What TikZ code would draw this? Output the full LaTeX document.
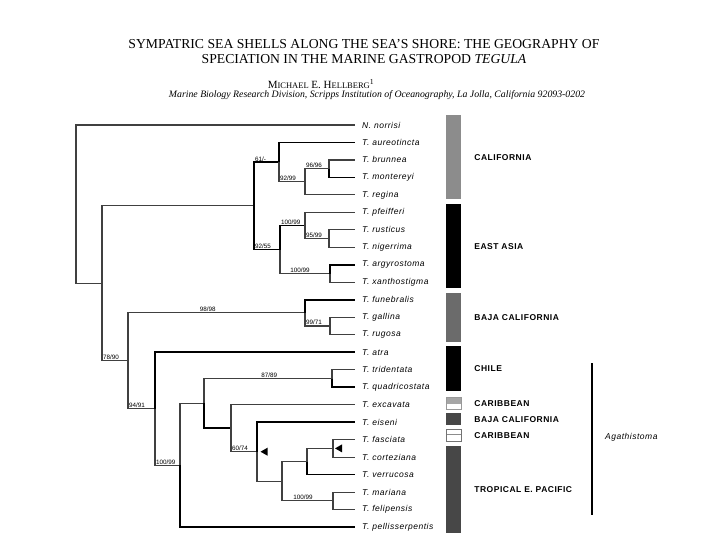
\documentclass[tikz,border=0pt]{standalone}
\usepackage{fontspec}
\setmainfont{Liberation Serif}
\newfontfamily\taxfont[LetterSpace=6]{Liberation Sans}
\newfontfamily\regfont[LetterSpace=6]{Liberation Sans}
\newfontfamily\supfont{Liberation Sans}
\usetikzlibrary{positioning, shapes.geometric, calc}
\newcommand{\fsc}[1]{{\fontsize{8.5}{10}\selectfont #1}}
\tikzset{
	br/.style   ={line width=1.1pt, black!75},
	brb/.style  ={line width=1.7pt, black},
	taxon/.style={anchor=west, inner sep=0pt, font=\fontsize{8.5}{10}\taxfont\itshape},
	sup/.style  ={anchor=south west, inner sep=0.8pt, font=\fontsize{6.3}{7}\supfont},
	tri/.style  ={isosceles triangle, shape border rotate=180, isosceles triangle stretches, fill=black, inner sep=0pt, minimum height=7pt, minimum width=8pt},
	bar/.style  ={rectangle, anchor=north, minimum width=15pt, inner sep=0pt},
	region/.style={anchor=west, inner sep=0pt, font=\fontsize{8.5}{10}\regfont\bfseries},
}

\begin{document}
\begin{tikzpicture}[x=1pt, y=-1pt]
	\useasboundingbox (0,0) rectangle (720,540);
	% heading
	\node[align=center, font=\fontsize{13.7}{15}\selectfont] (title) at (364,52)
		{SYMPATRIC SEA SHELLS ALONG THE SEA’S SHORE: THE GEOGRAPHY OF\\SPECIATION IN THE MARINE GASTROPOD \textit{TEGULA}};
	\node[font=\fontsize{11}{12}\selectfont] (author) at (321,84)
		{M\fsc{ICHAEL} E. H\fsc{ELLBERG}\textsuperscript{1}};
	\node[font=\fontsize{9.8}{11}\itshape] (affil) at (377,95.5)
		{Marine Biology Research Division, Scripps Institution of Oceanography, La Jolla, California 92093-0202};
	% leaves
	\foreach \nm [count=\i] in {N. norrisi, T. aureotincta, T. brunnea, T. montereyi, T. regina,
		T. pfeifferi, T. rusticus, T. nigerrima, T. argyrostoma, T. xanthostigma,
		T. funebralis, T. gallina, T. rugosa, T. atra, T. tridentata, T. quadricostata,
		T. excavata, T. eiseni, T. fasciata, T. corteziana, T. verrucosa, T. mariana,
		T. felipensis, T. pellisserpentis} {
		\coordinate (t\i) at (355,{125+17.48*(\i-1)});
		\node[taxon] (s\i) at ($(t\i)+(7,0)$) {\nm};
	}
	% internal nodes
	\coordinate (root)   at (76,205);
	\coordinate (nIng)   at (102,283.4);
	\coordinate (nNorth) at (254,205.9);
	\coordinate (nCal)   at (279,162.2);
	\coordinate (nCal2)  at (305,181.8);
	\coordinate (nBM)    at (329,168.7);
	\coordinate (nEA)    at (280,249.6);
	\coordinate (nPf)    at (305,225.5);
	\coordinate (nRN)    at (329,238.7);
	\coordinate (nAX)    at (330,273.6);
	\coordinate (nSouth) at (128,360.8);
	\coordinate (nBaja)  at (305,312.9);
	\coordinate (nGR)    at (330,326);
	\coordinate (nAtra)  at (155,408.7);
	\coordinate (nPel)   at (180,465.2);
	\coordinate (nAg)    at (204,403.4);
	\coordinate (nTQ)    at (332,378.5);
	\coordinate (nEx)    at (231,428.2);
	\coordinate (nEi)    at (257,451.7);
	\coordinate (nTP)    at (282,481.2);
	\coordinate (nFV)    at (307,461.5);
	\coordinate (nFC)    at (333,448.4);
	\coordinate (nMF)    at (333,500.8);
	% outgroup and root
	\draw[br] (root) |- (t1);
	\draw[br] (root) |- (nIng);
	\draw[br] (nIng) |- (nNorth);
	\draw[br] (nIng) |- (nSouth);
	% California
	\draw[brb] (nNorth) |- (nCal);
	\draw[brb] (nCal) |- (t2);
	\draw[br] (nCal) |- (nCal2);
	\draw[br] (nCal2) |- (nBM);
	\draw[br] (nCal2) |- (t5);
	\draw[br] (nBM) |- (t3);
	\draw[brb] (nBM) |- (t4);
	% East Asia
	\draw[brb] (nNorth) |- (nEA);
	\draw[brb] (nEA) |- (nPf);
	\draw[br] (nPf) |- (t6);
	\draw[br] (nPf) |- (nRN);
	\draw[br] (nRN) |- (t7);
	\draw[br] (nRN) |- (t8);
	\draw[br] (nEA) |- (nAX);
	\draw[brb] (nAX) |- (t9);
	\draw[br] (nAX) |- (t10);
	% Baja California
	\draw[br] (nSouth) |- (nBaja);
	\draw[brb] (nBaja) |- (t11);
	\draw[br] (nBaja) |- (nGR);
	\draw[br] (nGR) |- (t12);
	\draw[br] (nGR) |- (t13);
	% south and Agathistoma
	\draw[br] (nSouth) |- (nAtra);
	\draw[brb] (nAtra) |- (t14);
	\draw[br] (nAtra) |- (nPel);
	\draw[br] (nPel) |- (nAg);
	\draw[brb] (nPel) |- (t24);
	\draw[br] (nAg) |- (nTQ);
	\draw[br] (nTQ) |- (t15);
	\draw[brb] (nTQ) |- (t16);
	\draw[brb] (nAg) |- (nEx);
	\draw[br] (nEx) |- (t17);
	\draw[br] (nEx) |- (nEi);
	\draw[brb] (nEi) |- (t18);
	\draw[br] (nEi) |- (nTP);
	\draw[br] (nTP) |- (nFV);
	\draw[br] (nFV) |- (nFC);
	\draw[brb] (nFV) |- (t21);
	\draw[br] (nFC) |- (t19);
	\draw[br] (nFC) |- (t20);
	\draw[br] (nTP) |- (nMF);
	\draw[br] (nMF) |- (t22);
	\draw[br] (nMF) |- (t23);
	% support values
	\node[sup] at (nNorth |- nCal) {61/-};
	\node[sup] at (nCal |- nCal2) {92/99};
	\node[sup] at (nCal2 |- nBM) {96/96};
	\node[sup] at (nEA |- nPf) {100/99};
	\node[sup] at (nPf |- nRN) {95/99};
	\node[sup] at (nNorth |- nEA) {92/55};
	\node[sup, anchor=south] at ($(nEA |- nAX)!.4!(nAX)$) {100/99};
	\node[sup, anchor=south] at ($(nSouth |- nBaja)!.45!(nBaja)$) {98/98};
	\node[sup] at (nBaja |- nGR) {99/71};
	\node[sup] at (nIng |- nSouth) {78/90};
	\node[sup] at (nSouth |- nAtra) {94/91};
	\node[sup] at (nAtra |- nPel) {100/99};
	\node[sup, anchor=south] at ($(nAg |- nTQ)!.51!(nTQ)$) {87/89};
	\node[sup] at (nEx |- nEi) {60/74};
	\node[sup, anchor=south] at ($(nTP |- nMF)!.41!(nMF)$) {100/99};
	% markers
	\node[tri, anchor=apex] (k1) at ([xshift=3]nEi) {};
	\node[tri, anchor=apex] (k2) at ([xshift=1.5]nFC) {};
	% geographic bars
	\node[bar, fill=black!45, minimum height=84pt] (bCal) at (453.5,115) {};
	\node[bar, fill=black, minimum height=84pt] (bEA) at (453.5,204) {};
	\node[bar, fill=black!58, minimum height=49pt] (bBaja) at (453.5,293) {};
	\node[bar, fill=black, minimum height=45pt] (bChile) at (453.5,346) {};
	\node[bar, fill=black!35, draw=black!40, minimum height=12pt,
		path picture={\fill[white] ([yshift=5pt]path picture bounding box.south west) rectangle (path picture bounding box.south east);}] (bCar1) at (453.5,397) {};
	\node[bar, fill=black!72, minimum height=12pt] (bBaja2) at (453.5,413) {};
	\node[bar, fill=white, draw=black!55, minimum height=12pt,
		path picture={\draw[black!45] ([yshift=-5pt]path picture bounding box.north west) -- ([yshift=-5pt]path picture bounding box.north east);}] (bCar2) at (453.5,429) {};
	\node[bar, fill=black!72, minimum height=87pt] (bTrop) at (453.5,446) {};
	\node[region, right=13pt of bCal] (rCal) {CALIFORNIA};
	\node[region, right=13pt of bEA] (rEA) {EAST ASIA};
	\node[region, right=13pt of bBaja] (rBaja) {BAJA CALIFORNIA};
	\node[region, right=13pt of bChile] (rChile) {CHILE};
	\node[region, right=13pt of bCar1] (rCar1) {CARIBBEAN};
	\node[region, right=13pt of bBaja2] (rBaja2) {BAJA CALIFORNIA};
	\node[region, right=13pt of bCar2] (rCar2) {CARIBBEAN};
	\node[region, right=13pt of bTrop] (rTrop) {TROPICAL E. PACIFIC};
	% subgenus
	\coordinate (aTop) at (592,363);
	\coordinate (aBot) at (592,515);
	\draw[line width=1.5pt] (aTop) -- (aBot);
	\node[anchor=west, inner sep=0pt, font=\fontsize{8.5}{10}\regfont\itshape] (agath) at (605,437) {Agathistoma};
\end{tikzpicture}
\end{document}
